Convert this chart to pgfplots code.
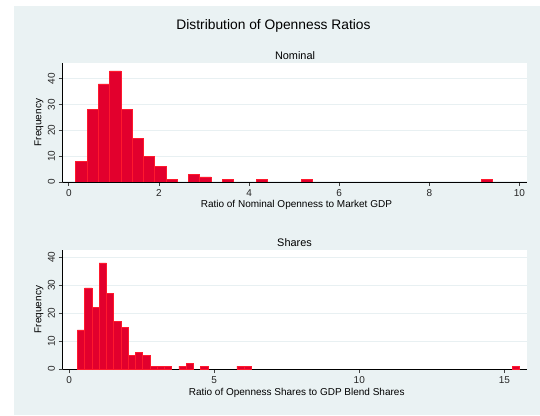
\documentclass[border=0pt]{standalone}
\usepackage{fontspec}
\setmainfont{Liberation Sans}
\usepackage{pgfplots}
\pgfplotsset{compat=1.18}

\definecolor{bgc}{RGB}{234,242,243}
\definecolor{gridc}{RGB}{232,240,242}
\definecolor{barfill}{RGB}{226,0,45}
\definecolor{barline}{RGB}{255,25,45}

\pgfplotsset{histo/.style={
  scale only axis, width=464.2pt, height=119pt, anchor=south west,
  axis background/.style={fill=white},
  axis x line*=bottom, axis y line*=left,
  axis line style={-, line width=0.9pt, black},
  tick align=outside, major tick length=4pt,
  tick style={line width=0.8pt, black!75},
  ymajorgrids, grid style={gridc, line width=1pt},
  ymin=0, ytick={0,10,20,30,40},
  /pgf/number format/assume math mode=true,
  ticklabel style={font=\fontsize{10}{12}\selectfont, text=black!85},
  yticklabel style={rotate=90, anchor=south},
  ybar, bar width=0.25, bar shift=0pt,
}}

\begin{document}
\begin{tikzpicture}
\path (0pt,0pt) rectangle (540pt,415pt);
\fill[bgc] (14pt,0pt) rectangle (540pt,409pt);

\node[anchor=base, font=\fontsize{13.8}{16}\selectfont] at (273.5pt,385pt) {Distribution of Openness Ratios};

% Nominal
\node[anchor=base, font=\fontsize{10.9}{13}\selectfont] at (295pt,355.5pt) {Nominal};
\begin{axis}[histo, at={(62.5pt,233pt)},
  xmin=-0.14, xmax=10.16, ymax=46.1, xtick={0,2,...,10}]
\addplot[fill=barfill, draw=barline, line width=0.6pt] coordinates {
 (0.28,8) (0.53,28) (0.78,38) (1.03,43) (1.28,28) (1.53,17) (1.78,10)
 (2.03,6) (2.28,1) (2.78,3) (3.03,2) (3.53,1) (4.28,1) (5.28,1) (9.28,1)};
\end{axis}
\node[anchor=base, font=\fontsize{10}{12}\selectfont] at (296.4pt,207.5pt) {Ratio of Nominal Openness to Market GDP};
\node[anchor=base, rotate=90, font=\fontsize{10}{12}\selectfont] at (41.3pt,292.5pt) {Frequency};

% Shares
\node[anchor=base, font=\fontsize{10.9}{13}\selectfont] at (294.5pt,168.5pt) {Shares};
\begin{axis}[histo, at={(62.5pt,46pt)},
  xmin=-0.23, xmax=15.77, ymax=42.6, xtick={0,5,10,15}]
\addplot[fill=barfill, draw=barline, line width=0.6pt] coordinates {
 (0.405,14) (0.655,29) (0.905,22) (1.155,38) (1.405,27) (1.655,17) (1.905,15)
 (2.155,5) (2.405,6) (2.655,5) (2.905,1) (3.155,1) (3.405,1) (3.905,1)
 (4.155,2) (4.655,1) (5.905,1) (6.155,1) (15.405,1)};
\end{axis}
\node[anchor=base, font=\fontsize{10}{12}\selectfont] at (296.7pt,20pt) {Ratio of Openness Shares to GDP Blend Shares};
\node[anchor=base, rotate=90, font=\fontsize{10}{12}\selectfont] at (41.3pt,105.5pt) {Frequency};
\end{tikzpicture}
\end{document}
